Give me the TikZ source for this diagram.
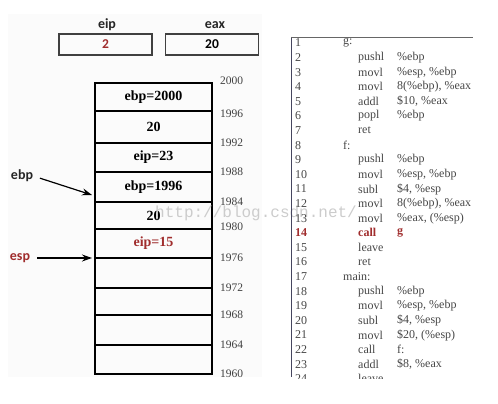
\documentclass[tikz,border=0pt]{standalone}
\usepackage{fontspec}
\setmainfont{Liberation Serif}
\newfontfamily\labfont{Carlito}
\newfontfamily\wmfont{Liberation Mono}
\usetikzlibrary{arrows.meta}
\definecolor{dred}{RGB}{160,45,45}
\definecolor{codegray}{RGB}{70,70,70}
\definecolor{panelline}{RGB}{70,70,95}
\begin{document}
\begin{tikzpicture}[x=1pt,y=-1pt,
  reg/.style={draw=black!75,line width=1.3pt,minimum width=93pt,minimum height=21pt,inner sep=0pt,font=\labfont\bfseries\fontsize{13.5}{14}\selectfont},
  reglab/.style={font=\labfont\bfseries\fontsize{14}{14}\selectfont,inner sep=0pt,text=black!85},
  cell/.style={draw=black,line width=2pt,minimum width=117pt,inner sep=0pt,font=\bfseries\fontsize{14}{15}\selectfont},
  addr/.style={anchor=west,inner sep=0pt,font=\fontsize{11.5}{12}\selectfont,text=black!75},
  arr/.style={line width=1.2pt,-{Stealth[length=10pt,width=7pt]}},
  code/.style={anchor=west,inner sep=0pt,font=\fontsize{12}{13}\selectfont,text=codegray},
  hot/.style={text=dred,font=\bfseries\fontsize{12}{13}\selectfont}
]
\useasboundingbox (0,0) rectangle (498,404);
\fill[black!1.5] (8,14) rectangle (262,377);

% registers
\node[reglab] (eipl) at (107,25) {eip};
\node[reglab] (eaxl) at (215,25) {eax};
\node[reg,text=dred] (eipb) at (105.5,44.5) {2};
\node[reg] (eaxb) at (212,44.5) {20};

% stack cells
\foreach \n/\a/\b/\t/\c in {c1/83/111/ebp=2000/black, c2/111/143/20/black, c3/143/172/eip=23/black, c4/172/202/ebp=1996/black, c5/202/229/20/black, c6/229/258/eip=15/dred, c7/258/288//black, c8/288/315//black, c9/315/345//black, c10/345/374//black}{
  \pgfmathsetmacro{\h}{\b-\a}
  \pgfmathsetmacro{\m}{(\a+\b)/2}
  \node[cell,minimum height=\h pt,text=\c] (\n) at (153.5,\m) {\t};
}

% addresses
\foreach \v/\y in {2000/81,1996/114,1992/143,1988/172,1984/202,1980/227,1976/258,1972/288,1968/315,1964/345,1960/374}{
  \node[addr] (a\v) at (220,\y) {\v};
}

% watermark
\node[inner sep=0pt,anchor=west,font=\wmfont\fontsize{16}{16}\selectfont,text=black!20] (wm) at (155,213) {http://blog.csdn.net/};

% pointers
\node[reglab] (ebpl) at (22,176) {ebp};
\node[reglab,text=dred] (espl) at (20,258) {esp};
\coordinate (ebptip) at (92,195);
\coordinate (esptip) at (92,258);
\draw[arr,shorten <=7pt] (ebpl.east) -- (ebptip);
\draw[arr,shorten <=7pt] (espl.east) -- (esptip);

% code panel
\draw[panelline,line width=1pt] (291,37) -- (291,377);
\draw[black!60,line width=0.8pt] (291,37) -- (473,37);
\begin{scope}
\clip (285,30) rectangle (498,378);
\foreach \i/\l/\ins/\op in {1/g://, 2//pushl/\%ebp, 3//movl/{\%esp, \%ebp}, 4//movl/{8(\%ebp), \%eax}, 5//addl/{\$10, \%eax}, 6//popl/\%ebp, 7//ret/, 8/f://, 9//pushl/\%ebp, 10//movl/{\%esp, \%ebp}, 11//subl/{\$4, \%esp}, 12//movl/{8(\%ebp), \%eax}, 13//movl/{\%eax, (\%esp)}, 15//leave/, 16//ret/, 17/main://, 18//pushl/\%ebp, 19//movl/{\%esp, \%ebp}, 20//subl/{\$4, \%esp}, 21//movl/{\$20, (\%esp)}, 22//call/f:, 23//addl/{\$8, \%eax}, 24//leave/}{
  \pgfmathsetmacro{\yy}{43+(\i-1)*14.6}
  \node[code] (n\i) at (295,\yy) {\i};
  \node[code] (l\i) at (343,\yy) {\l};
  \node[code] (i\i) at (358,\yy) {\ins};
  \node[code] (o\i) at (397,\yy) {\op};
}
\pgfmathsetmacro{\yy}{43+13*14.6}
\node[code,hot] (n14) at (295,\yy) {14};
\node[code,hot] (i14) at (358,\yy) {call};
\node[code,hot] (o14) at (397,\yy) {g};
\end{scope}
\end{tikzpicture}
\end{document}
